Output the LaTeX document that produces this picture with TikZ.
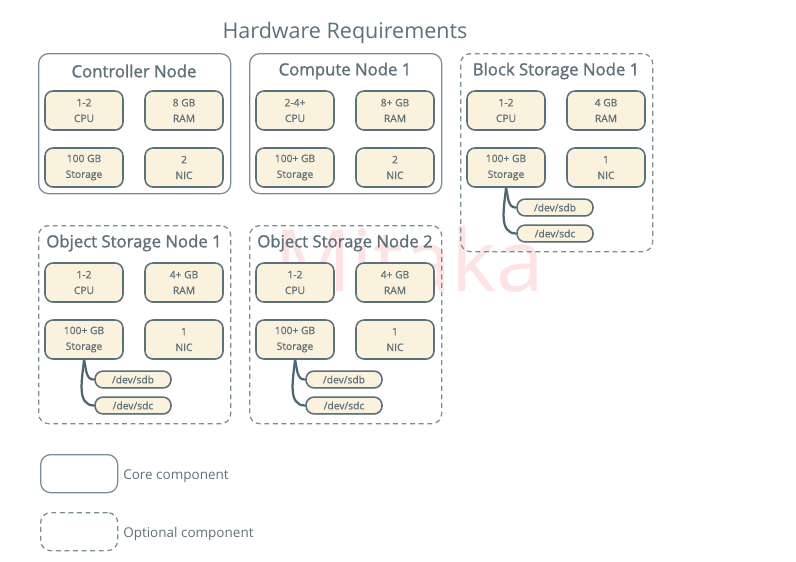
\documentclass[tikz,border=0pt]{standalone}
\usepackage{fontspec}
\setmainfont{Open Sans}
\newfontfamily\semifont[FakeBold=1.3]{Open Sans}
\newfontfamily\partfont[FakeBold=0.8]{Open Sans}
\usetikzlibrary{positioning,shadows}
\definecolor{hw-frame}{HTML}{7A8D96}
\definecolor{hw-text}{HTML}{5E7079}
\definecolor{hw-line}{HTML}{5A707A}
\definecolor{hw-fill}{HTML}{FBF2DE}
\definecolor{hw-wire}{HTML}{4D6670}
\definecolor{hw-mark}{HTML}{FDE3E3}

\begin{document}
\begin{tikzpicture}[x=0.025cm,y=-0.025cm,
  corebox/.style={draw=hw-frame, line width=0.9pt, rounded corners=0.25cm,
    minimum width=4.8cm, minimum height=3.5cm, anchor=north west},
  optbox/.style={corebox, dash pattern=on 3.5pt off 2.6pt, minimum height=4.95cm},
  boxtitle/.style={text=hw-text, font=\semifont\fontsize{11.9}{13}\selectfont},
  part/.style={draw=hw-line, line width=1.1pt, fill=hw-fill, rounded corners=0.2cm,
    minimum width=1.95cm, minimum height=0.975cm, align=center, inner sep=0pt,
    text=hw-text, font=\partfont\fontsize{7.3}{11.2}\selectfont,
    drop shadow={opacity=0.25, shadow xshift=0.4pt, shadow yshift=-0.6pt}},
  disk/.style={part, minimum width=1.9cm, minimum height=0.42cm},
  wire/.style={draw=hw-wire, line width=1.6pt},
  legendtext/.style={text=hw-text, font=\fontsize{9.6}{11}\selectfont, anchor=west}]
\useasboundingbox (0,0) rectangle (796,561);

% watermark
\node[text=hw-mark, font=\fontsize{61}{61}\selectfont] (mark) at (409,259) {Mitaka};

\node[text=hw-text, font=\fontsize{15.3}{18}\selectfont] (title) at (345,33) {Hardware Requirements};

% nodes: name/x/y/title/cpu/ram/storage/nic/style/disks
\foreach \n/\x/\y/\t/\c/\r/\g/\i/\s/\d in {
    ctrl/38/53/Controller Node/1-2/8 GB/100 GB/2/corebox/0,
    comp/249/53/Compute Node 1/2-4+/8+ GB/100+ GB/2/corebox/0,
    blk/460/53/Block Storage Node 1/1-2/4 GB/100+ GB/1/optbox/1,
    objA/38/225/Object Storage Node 1/1-2/4+ GB/100+ GB/1/optbox/1,
    objB/249/225/Object Storage Node 2/1-2/4+ GB/100+ GB/1/optbox/1}{
  \node[\s] (\n) at (\x,\y) {};
  \node[boxtitle] (\n-t) at (\x+96,\y+18) {\t};
  \node[part] (\n-cpu) at (\x+46,\y+57.5) {\c\\CPU};
  \node[part] (\n-ram) at (\x+146,\y+57.5) {\r\\RAM};
  \node[part] (\n-st) at (\x+46,\y+114.5) {\g\\Storage};
  \node[part] (\n-nic) at (\x+146,\y+114.5) {\i\\NIC};
  \ifnum\d=1
    \node[disk] (\n-sdb) at (\x+95,\y+154.5) {/dev/sdb};
    \node[disk] (\n-sdc) at (\x+95,\y+180.5) {/dev/sdc};
    \draw[wire] (\n-st.south) to[out=-75, in=185] (\n-sdb.west);
    \draw[wire] (\n-st.south) to[out=-95, in=180] (\n-sdc.west);
  \fi
}

% legend
\node[corebox, minimum width=1.925cm, minimum height=0.95cm] (core) at (40,454) {};
\node[legendtext] (core-l) at ([yshift=-0.07cm]core.east) {Core component};
\node[optbox, minimum width=1.925cm, minimum height=0.95cm] (opt) at (40,512) {};
\node[legendtext] (opt-l) at ([yshift=-0.07cm]opt.east) {Optional component};
\end{tikzpicture}
\end{document}
